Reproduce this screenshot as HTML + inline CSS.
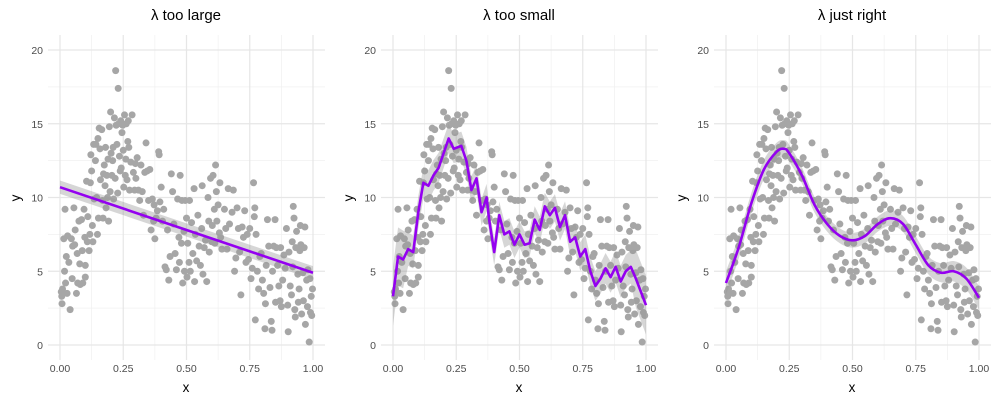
<!DOCTYPE html>
<html><head><meta charset="utf-8">
<style>
body{margin:0;background:#fff;}
svg{display:block;font-family:"Liberation Sans",sans-serif;}
</style></head>
<body>
<svg id="chart" width="1000" height="400" xmlns="http://www.w3.org/2000/svg"></svg>
<script>
const panelTitles = ["λ too large","λ too small","λ just right"];
const xTicks = [0,0.25,0.5,0.75,1];
const xTickLabels = ["0.00","0.25","0.50","0.75","1.00"];
const yTicks = [0,5,10,15,20];
const yTickLabels = ["0","5","10","15","20"];
const pointsX = [0.005,0.007,0.008,0.01,0.015,0.018,0.02,0.022,0.025,0.028,0.03,0.035,0.04,0.045,0.048,0.05,0.055,0.058,0.06,0.065,0.068,0.07,0.075,0.078,0.08,0.085,0.088,0.09,0.095,0.098,0.1,0.1,0.105,0.108,0.11,0.115,0.118,0.12,0.122,0.125,0.128,0.13,0.133,0.135,0.14,0.142,0.145,0.148,0.15,0.152,0.155,0.158,0.16,0.165,0.168,0.17,0.172,0.175,0.178,0.18,0.182,0.185,0.188,0.19,0.192,0.195,0.198,0.2,0.202,0.205,0.208,0.21,0.212,0.215,0.218,0.22,0.222,0.225,0.228,0.23,0.232,0.235,0.238,0.24,0.242,0.245,0.248,0.25,0.252,0.255,0.258,0.26,0.262,0.265,0.268,0.27,0.272,0.275,0.28,0.285,0.29,0.295,0.298,0.3,0.305,0.31,0.315,0.32,0.325,0.33,0.335,0.34,0.345,0.35,0.355,0.36,0.365,0.37,0.372,0.375,0.38,0.385,0.39,0.392,0.395,0.4,0.405,0.41,0.415,0.42,0.425,0.43,0.435,0.44,0.445,0.45,0.455,0.46,0.465,0.47,0.472,0.475,0.48,0.482,0.485,0.49,0.492,0.495,0.5,0.502,0.505,0.51,0.512,0.515,0.52,0.525,0.53,0.532,0.535,0.54,0.545,0.55,0.555,0.56,0.562,0.565,0.57,0.575,0.58,0.585,0.588,0.59,0.595,0.6,0.602,0.605,0.61,0.612,0.615,0.618,0.62,0.625,0.63,0.632,0.635,0.64,0.65,0.655,0.66,0.665,0.67,0.68,0.685,0.69,0.695,0.7,0.705,0.71,0.715,0.72,0.725,0.73,0.735,0.74,0.745,0.75,0.755,0.76,0.765,0.768,0.77,0.772,0.775,0.78,0.785,0.79,0.795,0.8,0.805,0.81,0.812,0.815,0.82,0.825,0.83,0.835,0.838,0.84,0.845,0.85,0.852,0.855,0.86,0.865,0.87,0.872,0.875,0.88,0.885,0.89,0.895,0.9,0.902,0.905,0.91,0.915,0.918,0.92,0.922,0.925,0.928,0.93,0.932,0.935,0.94,0.942,0.945,0.948,0.95,0.952,0.955,0.96,0.962,0.965,0.968,0.97,0.975,0.978,0.98,0.985,0.988,0.99,0.993,0.995,0.998];
const pointsY = [3.6,3.3,2.8,3.8,7.2,5.0,9.2,4.2,6.0,3.5,7.4,5.6,2.4,7.2,4.5,6.7,9.3,6.8,7.8,3.5,6.2,4.2,8.4,5.5,4.1,8.5,6.4,4.2,9.2,7.3,5.4,4.6,11.1,7.0,8.7,6.4,7.5,11.0,12.9,11.8,8.1,7.0,13.6,9.9,12.5,13.6,10.0,7.5,14.0,8.6,14.7,13.3,11.2,14.6,9.8,8.6,11.6,12.2,10.8,13.4,9.3,11.5,10.0,12.6,8.4,14.8,10.4,15.8,13.0,11.5,12.5,13.4,9.9,15.4,11.3,18.6,14.9,13.6,10.3,17.4,15.0,12.8,11.8,15.2,12.0,14.4,14.9,13.2,10.7,15.6,11.5,12.6,15.0,11.2,13.8,15.2,13.4,10.5,12.4,15.6,11.7,10.5,12.3,11.3,12.7,10.5,9.8,12.2,10.4,8.8,11.7,13.7,11.8,9.8,11.9,7.8,9.9,8.4,9.5,7.2,8.6,9.1,13.1,12.9,9.7,10.7,8.4,9.2,5.3,5.1,7.8,4.4,6.0,11.6,10.4,8.2,6.2,5.1,9.9,7.3,5.6,11.5,6.9,9.8,4.2,7.7,5.0,9.8,8.6,4.6,6.9,5.6,9.8,5.0,8.3,6.2,10.6,4.3,7.5,5.7,8.8,6.7,5.4,7.9,10.8,4.8,6.6,7.1,4.3,10.0,8.4,6.3,11.3,7.0,8.1,11.5,9.2,6.9,12.2,10.4,8.4,9.5,7.6,11.0,7.3,6.5,9.2,7.9,6.5,10.6,8.2,9.0,10.5,5.0,5.9,9.3,7.9,6.3,3.4,8.0,7.3,9.1,5.6,7.5,5.8,7.9,4.5,5.2,11.0,8.7,9.3,1.7,7.5,5.0,3.8,6.0,6.2,4.4,3.5,1.1,2.8,5.4,8.5,6.7,3.9,1.6,1.0,5.0,6.7,8.5,2.9,6.6,5.4,4.0,3.0,6.6,2.6,4.4,6.1,5.2,7.9,2.7,0.9,6.3,4.0,3.4,7.0,5.3,9.4,8.6,2.4,1.9,6.6,7.7,4.8,2.9,3.8,6.4,8.1,6.8,2.1,4.9,3.0,6.6,8.0,1.4,4.4,2.6,5.1,0.2,4.5,2.2,3.3,2.0,3.8];
const fitLargeX = [0,1];
const fitLargeY = [10.7,4.9];
const fitSmallX = [0,0.02,0.04,0.06,0.08,0.1,0.12,0.14,0.16,0.18,0.2,0.22,0.24,0.27,0.29,0.31,0.33,0.35,0.37,0.38,0.4,0.42,0.44,0.46,0.48,0.5,0.52,0.54,0.56,0.58,0.6,0.62,0.64,0.66,0.68,0.7,0.72,0.74,0.76,0.78,0.8,0.82,0.84,0.86,0.88,0.9,0.92,0.94,0.96,1.0];
const fitSmallY = [3.3,6.0,5.8,6.5,6.3,9.0,11.0,10.8,11.5,12.0,13.0,14.0,13.3,13.5,12.5,10.5,11.3,9.0,10.0,8.5,6.3,8.8,7.5,7.7,6.8,7.5,6.8,6.9,8.5,7.8,9.4,8.8,9.3,8.0,8.8,7.0,7.3,6.0,6.5,5.0,4.0,4.5,5.2,4.6,5.3,4.3,5.0,5.3,4.5,2.7];
const fitRightX = [0,0.05,0.1,0.15,0.2,0.23,0.25,0.3,0.35,0.4,0.45,0.5,0.55,0.6,0.65,0.7,0.75,0.8,0.85,0.9,0.95,1.0];
const fitRightY = [4.2,6.6,9.6,11.9,13.1,13.3,13.0,11.5,9.5,8.2,7.4,7.1,7.4,8.2,8.6,8.2,6.8,5.4,4.9,5.0,4.5,3.2];
const ribbonHalf = [[0.45,0.6],[1.2,0.9],[0.8,0.5]];

const svg = document.getElementById('chart');
const NS = 'http://www.w3.org/2000/svg';
function mk(tag, attrs, parent){const e=document.createElementNS(NS,tag);for(const k in attrs)e.setAttribute(k,attrs[k]);(parent||svg).appendChild(e);return e;}
function smoothPath(P){
  let d='M'+P[0][0]+','+P[0][1];
  for(let i=0;i<P.length-1;i++){
    const p0=P[Math.max(0,i-1)],p1=P[i],p2=P[i+1],p3=P[Math.min(P.length-1,i+2)];
    const c1=[p1[0]+(p2[0]-p0[0])/6,p1[1]+(p2[1]-p0[1])/6];
    const c2=[p2[0]-(p3[0]-p1[0])/6,p2[1]-(p3[1]-p1[1])/6];
    d+=' C'+c1[0]+','+c1[1]+' '+c2[0]+','+c2[1]+' '+p2[0]+','+p2[1];
  }
  return d;
}
const fits = [[fitLargeX,fitLargeY],[fitSmallX,fitSmallY],[fitRightX,fitRightY]];
for(let p=0;p<3;p++){
  const off = p*333;
  const sx = v => 60 + off + v*253;
  const sy = v => 345 - v*14.75;
  const g = mk('g',{});
  
  
  [0.125,0.375,0.625,0.875].forEach(v=>mk('line',{x1:sx(v),x2:sx(v),y1:35,y2:360,stroke:'#f0f0f0','stroke-width':0.7},g));
  [2.5,7.5,12.5,17.5].forEach(v=>mk('line',{x1:48+off,x2:325+off,y1:sy(v),y2:sy(v),stroke:'#f0f0f0','stroke-width':0.7},g));
  xTicks.forEach(v=>mk('line',{x1:sx(v),x2:sx(v),y1:35,y2:360,stroke:'#e6e6e6','stroke-width':1.2},g));
  yTicks.forEach(v=>mk('line',{x1:48+off,x2:325+off,y1:sy(v),y2:sy(v),stroke:'#e6e6e6','stroke-width':1.2},g));
  xTicks.forEach((v,i)=>{const t=mk('text',{x:sx(v),y:372,'text-anchor':'middle','font-size':10.5,fill:'#4d4d4d'},g);t.textContent=xTickLabels[i];
    });
  yTicks.forEach((v,i)=>{const t=mk('text',{x:43+off,y:sy(v)+4,'text-anchor':'end','font-size':10.5,fill:'#4d4d4d'},g);t.textContent=yTickLabels[i];
    });
  const tt=mk('text',{x:186+off,y:20,'text-anchor':'middle','font-size':15,fill:'#000'},g);tt.textContent=panelTitles[p];
  
  const xl=mk('text',{x:186+off,y:392,'text-anchor':'middle','font-size':13.5,fill:'#000'},g);xl.textContent='x';
  
  const yl=mk('text',{x:20+off,y:198,'text-anchor':'middle','font-size':13.5,fill:'#000',transform:`rotate(-90 ${20+off} 198)`},g);yl.textContent='y';
  
  for(let i=0;i<pointsX.length;i++){
    const c=mk('circle',{cx:sx(pointsX[i]),cy:sy(pointsY[i]),r:3.5,fill:'#a6a6a6'},g);
    
    
  }
  const [fx,fy]=fits[p];
  const n=fx.length;
  const hw=i=>{const t=fx[i];const e=Math.min(1,Math.abs(t-0.5)*2);return ribbonHalf[p][1]+(ribbonHalf[p][0]-ribbonHalf[p][1])*e*e+(p===1&&(t<0.05||t>0.95)?0.8:0);};
  let up=[],dn=[];
  for(let i=0;i<n;i++){up.push([sx(fx[i]),sy(fy[i]+hw(i))]);dn.unshift([sx(fx[i]),sy(fy[i]-hw(i))]);}
  let rb;
  if(p===2){
    const dUp=smoothPath(up), dDn=smoothPath(dn).replace(/^M/,' L');
    rb=mk('path',{d:dUp+dDn+' Z',fill:'#999','fill-opacity':0.4},g);
  } else {
    rb=mk('polygon',{points:up.concat(dn).map(q=>q.join(',')).join(' '),fill:'#999','fill-opacity':0.4},g);
  }
  
  
  const P=fx.map((v,i)=>[sx(v),sy(fy[i])]);
  let ln;
  if(p===2){
    ln=mk('path',{d:smoothPath(P),fill:'none',stroke:'#9400f0','stroke-width':2.6},g);
  } else {
    ln=mk('polyline',{points:P.map(q=>q.join(',')).join(' '),fill:'none',stroke:'#9400f0','stroke-width':2.6,'stroke-linejoin':'round'},g);
  }
  
  
}
</script>
</body></html>
